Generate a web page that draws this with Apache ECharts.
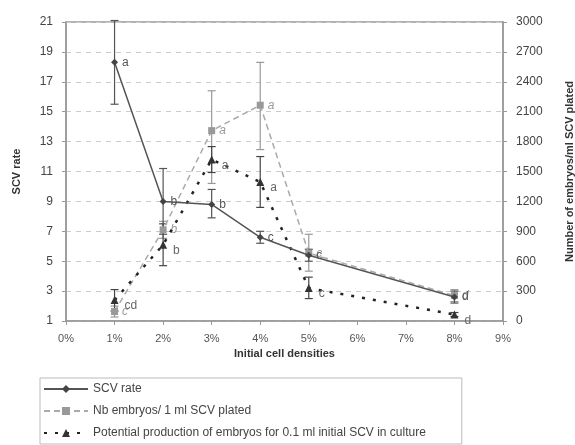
<!DOCTYPE html>
<html><head><meta charset="utf-8">
<script src="https://cdn.jsdelivr.net/npm/echarts@6/dist/echarts.min.js"></script>
<style>html,body{margin:0;padding:0;background:#fff}#c{width:575px;height:445px}</style>
</head><body><div id="c"></div>
<script>
var densities = [1, 2, 3, 4, 5, 8];
var scvRate = [18.3, 9.0, 8.8, 6.6, 5.4, 2.6];
var scvLow  = [15.5, 6.8, 7.9, 6.2, 5.0, 2.2];
var scvHigh = [21.1, 11.2, 9.8, 7.0, 5.8, 3.0];
var scvLetters = ['a', 'b', 'b', 'c', 'c', 'd'];

var nbEmbryos = [95, 915, 1910, 2165, 680, 255];
var nbLow  = [40, 830, 1380, 1720, 500, 195];
var nbHigh = [150, 1000, 2310, 2595, 870, 315];
var nbLetters = ['c', 'b', 'a', 'a', 'c', 'd'];

var potential = [210, 765, 1620, 1395, 330, 65];
var potLow  = [100, 555, 1490, 1140, 225, 45];
var potHigh = [315, 975, 1750, 1650, 440, 85];
var potLetters = ['cd', 'b', 'a', 'a', 'c', 'd'];

function pairs(ys) { return densities.map(function (d, i) { return [d, ys[i]]; }); }
function bars(lo, hi) { return densities.map(function (d, i) { return [d, lo[i], hi[i]]; }); }

function errRender(color) {
  return function (params, api) {
    var x = api.value(0);
    var p1 = api.coord([x, api.value(1)]);
    var p2 = api.coord([x, api.value(2)]);
    var w = 4;
    var st = { stroke: color, lineWidth: 1.2 };
    return { type: 'group', children: [
      { type: 'line', shape: { x1: p1[0], y1: p1[1], x2: p2[0], y2: p2[1] }, style: st },
      { type: 'line', shape: { x1: p1[0] - w, y1: p1[1], x2: p1[0] + w, y2: p1[1] }, style: st },
      { type: 'line', shape: { x1: p2[0] - w, y1: p2[1], x2: p2[0] + w, y2: p2[1] }, style: st }
    ] };
  };
}

function letterLabel(letters, color, extra) {
  return Object.assign({
    show: true, position: 'right', distance: 4, color: color,
    fontSize: 12, fontFamily: 'Liberation Sans, Arial, sans-serif',
    formatter: function (p) { return letters[p.dataIndex]; }
  }, extra || {});
}

var font = 'Liberation Sans, Arial, sans-serif';
var chart = echarts.init(document.getElementById('c'), null, { renderer: 'canvas' });
chart.setOption({
  animation: false,
  backgroundColor: '#fff',
  grid: { left: 66, right: 72, top: 22, bottom: 124, show: true, borderColor: '#999', borderWidth: 1.5,
    containLabel: false, outerBoundsMode: 'none' },
  xAxis: {
    type: 'value', min: 0, max: 9, interval: 1,
    name: 'Initial cell densities', nameLocation: 'middle', nameGap: 27,
    nameTextStyle: { fontWeight: 'bold', fontSize: 11, color: '#333', fontFamily: font },
    axisLine: { show: true, lineStyle: { color: '#999', width: 1.5 } },
    axisTick: { show: true, inside: false, length: 4, lineStyle: { color: '#999' } },
    axisLabel: { color: '#555', fontSize: 11, fontFamily: font, margin: 12,
      formatter: function (v) { return v + '%'; } },
    splitLine: { show: false }
  },
  yAxis: [{
    type: 'value', min: 1, max: 21, interval: 2, position: 'left',
    name: 'SCV rate', nameLocation: 'middle', nameGap: 44, nameRotate: 90,
    nameTextStyle: { fontWeight: 'bold', fontSize: 11, color: '#333', fontFamily: font },
    axisLine: { show: true, lineStyle: { color: '#999', width: 1.5 } },
    axisTick: { show: true, length: 4, lineStyle: { color: '#999' } },
    axisLabel: { color: '#444', fontSize: 12, fontFamily: font, margin: 13 },
    splitLine: { show: true, lineStyle: { color: '#ccc', type: [5, 5] } }
  }, {
    type: 'value', min: 0, max: 3000, interval: 300, position: 'right',
    name: 'Number of embryos/ml SCV plated', nameLocation: 'middle', nameGap: 61, nameRotate: 90,
    nameTextStyle: { fontWeight: 'bold', fontSize: 11, color: '#333', fontFamily: font },
    axisLine: { show: true, lineStyle: { color: '#999', width: 1.5 } },
    axisTick: { show: true, length: 4, lineStyle: { color: '#999' } },
    axisLabel: { color: '#444', fontSize: 12, fontFamily: font, margin: 13,
      formatter: function (v) { return String(v); } },
    splitLine: { show: false }
  }],
  legend: {
    orient: 'vertical', left: 40, top: 378, itemWidth: 44, itemHeight: 10, itemGap: 10,
    padding: [5, 36, 5, 3], borderColor: '#bbb', borderWidth: 1,
    textStyle: { fontSize: 12, color: '#444', fontFamily: font },
    data: ['SCV rate', 'Nb embryos/ 1 ml SCV plated', 'Potential production of embryos for 0.1 ml initial SCV in culture']
  },
  series: [
    { type: 'custom', yAxisIndex: 1, data: bars(nbLow, nbHigh), renderItem: errRender('#999'), z: 2, silent: true },
    { type: 'custom', yAxisIndex: 1, data: bars(potLow, potHigh), renderItem: errRender('#444'), z: 2, silent: true },
    { type: 'custom', yAxisIndex: 0, data: bars(scvLow, scvHigh), renderItem: errRender('#555'), z: 2, silent: true },
    {
      name: 'Nb embryos/ 1 ml SCV plated', type: 'line', yAxisIndex: 1, data: pairs(nbEmbryos),
      symbol: 'rect', symbolSize: 7, itemStyle: { color: '#999' },
      lineStyle: { color: '#aaa', width: 1.5, type: [6, 4] },
      label: letterLabel(nbLetters, '#999', { fontStyle: 'italic' }), z: 3
    },
    {
      name: 'Potential production of embryos for 0.1 ml initial SCV in culture', type: 'line', yAxisIndex: 1,
      data: pairs(potential),
      symbol: 'triangle', symbolSize: 8, itemStyle: { color: '#333' },
      lineStyle: { color: '#222', width: 2.5, type: [3, 8] },
      label: letterLabel(potLetters, '#666', { position: 'right', offset: [2, 6] }), z: 4
    },
    {
      name: 'SCV rate', type: 'line', yAxisIndex: 0, data: pairs(scvRate),
      symbol: 'diamond', symbolSize: 7, itemStyle: { color: '#444' },
      lineStyle: { color: '#555', width: 1.5 },
      label: letterLabel(scvLetters, '#555'), z: 5
    }
  ]
});
</script></body></html>
